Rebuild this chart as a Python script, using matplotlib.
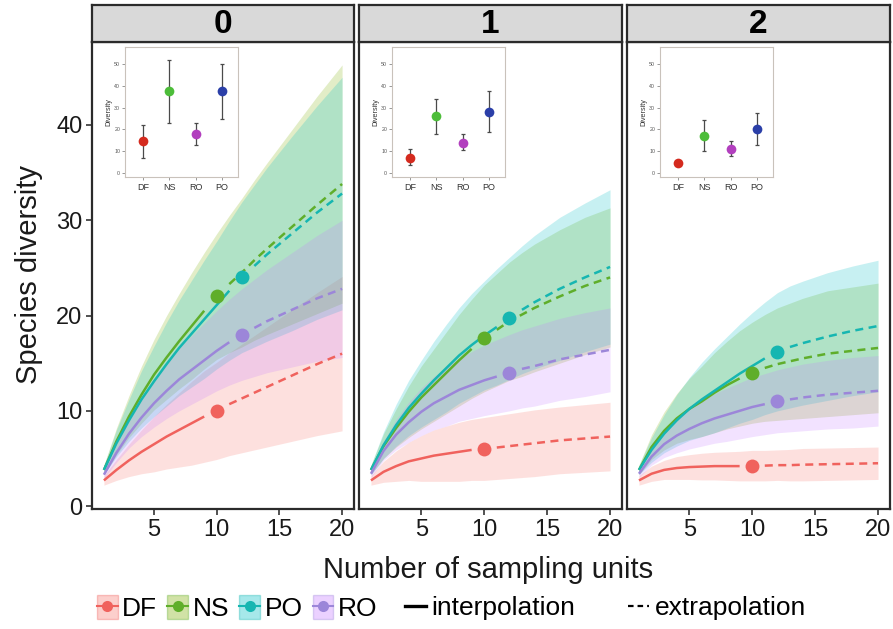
import numpy as np
import matplotlib
matplotlib.use("Agg")
import matplotlib.pyplot as plt
from matplotlib.patches import Patch
from matplotlib.lines import Line2D

plt.rcParams['font.family'] = ['Liberation Sans', 'DejaVu Sans']

# ---------------- data ----------------
facets = ["0", "1", "2"]
groups = ["DF", "NS", "PO", "RO"]
ref_size = {"DF": 10, "NS": 10, "PO": 12, "RO": 12}
x_units = [1, 2, 3, 4, 5, 6, 7, 8, 9, 10, 11, 12, 13, 14, 16, 18, 20]

# q = 0
q0_DF_mean = [2.7, 3.8, 4.8, 5.7, 6.5, 7.3, 8.0, 8.7, 9.4, 10.0, 10.7, 11.3, 11.9, 12.5, 13.7, 14.9, 16.0]
q0_DF_ci = [0.5, 1.1, 1.7, 2.3, 2.9, 3.4, 3.9, 4.4, 4.8, 5.1, 5.4, 5.7, 6.0, 6.3, 6.9, 7.5, 8.1]
q0_NS_mean = [3.8, 6.8, 9.4, 11.7, 13.8, 15.6, 17.3, 18.9, 20.5, 22.0, 23.3, 24.5, 25.8, 27.0, 29.3, 31.6, 33.8]
q0_NS_ci = [0.5, 1.4, 2.2, 3.0, 3.7, 4.4, 5.0, 5.6, 6.1, 6.6, 7.2, 7.8, 8.4, 9.0, 10.2, 11.4, 12.5]
q0_PO_mean = [3.8, 6.6, 9.0, 11.2, 13.1, 14.9, 16.6, 18.1, 19.6, 21.1, 22.6, 24.0, 25.2, 26.4, 28.6, 30.8, 32.8]
q0_PO_ci = [0.5, 1.4, 2.2, 3.0, 3.7, 4.4, 5.0, 5.6, 6.2, 6.7, 7.3, 7.9, 8.5, 9.1, 10.2, 11.2, 12.2]
q0_RO_mean = [3.3, 5.6, 7.6, 9.3, 10.8, 12.1, 13.3, 14.3, 15.3, 16.3, 17.2, 18.0, 18.7, 19.4, 20.6, 21.8, 22.8]
q0_RO_ci = [0.4, 1.0, 1.5, 2.0, 2.5, 2.9, 3.3, 3.6, 3.9, 4.2, 4.5, 4.8, 5.1, 5.4, 6.0, 6.6, 7.2]

# q = 1
q1_DF_mean = [2.7, 3.6, 4.2, 4.7, 5.0, 5.3, 5.5, 5.7, 5.9, 6.0, 6.15, 6.3, 6.45, 6.6, 6.9, 7.1, 7.3]
q1_DF_ci = [0.5, 1.1, 1.6, 2.0, 2.4, 2.7, 2.9, 3.1, 3.2, 3.3, 3.35, 3.4, 3.45, 3.5, 3.5, 3.55, 3.6]
q1_NS_mean = [3.8, 6.3, 8.2, 9.9, 11.4, 12.7, 14.0, 15.3, 16.5, 17.6, 18.5, 19.4, 20.1, 20.8, 22.0, 23.1, 24.0]
q1_NS_ci = [0.5, 1.3, 2.0, 2.7, 3.3, 3.8, 4.3, 4.8, 5.2, 5.6, 5.9, 6.2, 6.5, 6.7, 7.0, 7.2, 7.3]
q1_PO_mean = [3.8, 6.4, 8.5, 10.3, 11.8, 13.2, 14.5, 15.8, 16.9, 17.9, 18.8, 19.7, 20.6, 21.4, 22.8, 24.0, 25.1]
q1_PO_ci = [0.5, 1.4, 2.2, 2.9, 3.5, 4.1, 4.6, 5.0, 5.4, 5.7, 6.1, 6.4, 6.7, 7.0, 7.5, 7.8, 8.1]
q1_RO_mean = [3.4, 5.8, 7.5, 8.8, 9.9, 10.8, 11.5, 12.2, 12.7, 13.2, 13.6, 14.0, 14.4, 14.7, 15.4, 15.9, 16.4]
q1_RO_ci = [0.4, 1.0, 1.6, 2.1, 2.5, 2.8, 3.1, 3.3, 3.5, 3.7, 3.85, 4.0, 4.1, 4.2, 4.3, 4.4, 4.4]

# q = 2
q2_DF_mean = [2.7, 3.4, 3.8, 4.0, 4.1, 4.15, 4.2, 4.2, 4.2, 4.25, 4.25, 4.3, 4.3, 4.35, 4.4, 4.45, 4.5]
q2_DF_ci = [0.5, 0.8, 1.0, 1.2, 1.3, 1.4, 1.45, 1.5, 1.55, 1.6, 1.6, 1.6, 1.65, 1.7, 1.7, 1.7, 1.7]
q2_NS_mean = [3.8, 6.2, 7.9, 9.2, 10.2, 11.0, 11.9, 12.7, 13.4, 14.0, 14.5, 14.9, 15.2, 15.5, 16.0, 16.3, 16.6]
q2_NS_ci = [0.5, 1.3, 2.0, 2.6, 3.2, 3.7, 4.2, 4.6, 5.0, 5.3, 5.6, 5.9, 6.1, 6.3, 6.6, 6.7, 6.8]
q2_PO_mean = [3.8, 5.9, 7.6, 9.0, 10.2, 11.2, 12.1, 13.0, 13.9, 14.7, 15.5, 16.2, 16.7, 17.1, 17.8, 18.4, 18.9]
q2_PO_ci = [0.5, 1.3, 2.0, 2.7, 3.3, 3.9, 4.4, 4.8, 5.2, 5.6, 5.9, 6.2, 6.4, 6.5, 6.7, 6.8, 6.9]
q2_RO_mean = [3.4, 5.2, 6.5, 7.4, 8.1, 8.7, 9.2, 9.6, 10.0, 10.4, 10.7, 11.0, 11.2, 11.4, 11.7, 11.9, 12.1]
q2_RO_ci = [0.4, 0.9, 1.4, 1.8, 2.1, 2.4, 2.6, 2.8, 2.95, 3.1, 3.2, 3.3, 3.4, 3.5, 3.6, 3.7, 3.7]

curves = {
    "0": {"DF": (q0_DF_mean, q0_DF_ci), "NS": (q0_NS_mean, q0_NS_ci),
          "PO": (q0_PO_mean, q0_PO_ci), "RO": (q0_RO_mean, q0_RO_ci)},
    "1": {"DF": (q1_DF_mean, q1_DF_ci), "NS": (q1_NS_mean, q1_NS_ci),
          "PO": (q1_PO_mean, q1_PO_ci), "RO": (q1_RO_mean, q1_RO_ci)},
    "2": {"DF": (q2_DF_mean, q2_DF_ci), "NS": (q2_NS_mean, q2_NS_ci),
          "PO": (q2_PO_mean, q2_PO_ci), "RO": (q2_RO_mean, q2_RO_ci)},
}

# inset data (estimate, lower, upper)
inset_cats = ["DF", "NS", "RO", "PO"]
inset_est = {"0": [14.5, 37.5, 18.0, 37.5], "1": [7.0, 26.0, 14.0, 28.0], "2": [4.5, 17.0, 11.0, 20.0]}
inset_lo = {"0": [7.0, 23.0, 13.0, 25.0], "1": [3.5, 18.0, 10.5, 19.0], "2": [3.5, 10.0, 8.0, 13.0]}
inset_hi = {"0": [22.0, 52.0, 23.0, 50.0], "1": [11.0, 34.0, 18.0, 37.5], "2": [5.5, 24.5, 14.5, 27.5]}

# ---------------- style ----------------
line_col = {"DF": "#F0625D", "NS": "#5FAE2A", "PO": "#16B6B1", "RO": "#9C86D9"}
fill_col = {"DF": "#F8766D", "NS": "#7CAE00", "PO": "#00BFC4", "RO": "#C77CFF"}
inset_col = {"DF": "#D42A1E", "NS": "#4DBD3A", "RO": "#B23FBE", "PO": "#2B3FA8"}

W, H = 893, 629
fig = plt.figure(figsize=(W / 100, H / 100), dpi=100)


def rect(l, t, r, b):
    return [l / W, 1 - b / H, (r - l) / W, (b - t) / H]


panel_x = [(92, 354), (359, 622), (627, 890)]
p_top, p_bot = 42, 509
s_top = 5
inset_off = (33, 47, 146, 177)
border = "#2b2b2b"

x = np.array(x_units, dtype=float)
for i, f in enumerate(facets):
    l, r = panel_x[i]
    ax = fig.add_axes(rect(l, p_top, r, p_bot))
    for g in groups:
        m, c = curves[f][g]
        m = np.array(m); c = np.array(c)
        ax.fill_between(x, m - c, m + c, color=fill_col[g], alpha=0.22, lw=0, zorder=1)
    for g in groups:
        m, c = curves[f][g]
        m = np.array(m)
        ref = ref_size[g]
        si = x <= ref - 1
        ei = x >= ref + 1
        ax.plot(x[si], m[si], color=line_col[g], lw=1.8, zorder=3, solid_capstyle='butt')
        ax.plot(x[ei], m[ei], color=line_col[g], lw=1.8, ls=(0, (3.2, 2.2)), zorder=3)
        ax.plot([ref], [m[list(x_units).index(ref)]], 'o', color=line_col[g], ms=10, zorder=4,
                markeredgewidth=0)
    ax.set_xlim(0.05, 20.95)
    ax.set_ylim(-0.3, 48.7)
    ax.set_xticks([5, 10, 15, 20])
    ax.tick_params(axis='x', labelsize=17, length=4, width=1.2, color='#333333', pad=3,
                   labelcolor='#1a1a1a')
    if i == 0:
        ax.set_yticks([0, 10, 20, 30, 40])
        ax.tick_params(axis='y', labelsize=17, length=4, width=1.2, color='#333333', pad=3,
                       labelcolor='#1a1a1a')
    else:
        ax.set_yticks([])
    for sp in ax.spines.values():
        sp.set_linewidth(1.6)
        sp.set_color(border)

    # strip
    sax = fig.add_axes(rect(l, s_top, r, p_top))
    sax.set_facecolor("#d9d9d9")
    sax.set_xticks([]); sax.set_yticks([])
    for sp in sax.spines.values():
        sp.set_linewidth(1.6)
        sp.set_color(border)
    sax.text(0.5, 0.48, f, transform=sax.transAxes, ha='center', va='center',
             fontsize=24, fontweight='bold', color='black')

    # inset
    iax = fig.add_axes(rect(l + inset_off[0], inset_off[1], l + inset_off[2], inset_off[3]))
    iax.set_facecolor('white')
    pos = np.arange(1, len(inset_cats) + 1)
    for k, cat in enumerate(inset_cats):
        iax.errorbar([pos[k]], [inset_est[f][k]],
                     yerr=[[inset_est[f][k] - inset_lo[f][k]], [inset_hi[f][k] - inset_est[f][k]]],
                     fmt='none', ecolor='#4a4a4a', elinewidth=0.9, capsize=1.5, capthick=0.9, zorder=2)
        iax.plot([pos[k]], [inset_est[f][k]], 'o', color=inset_col[cat], ms=7, zorder=3,
                 markeredgewidth=0)
    iax.set_xlim(0.32, 4.6)
    iax.set_ylim(-1.8, 57.8)
    iax.set_xticks(pos)
    iax.set_xticklabels(inset_cats)
    iax.set_yticks([0, 10, 20, 30, 40, 50])
    iax.tick_params(axis='x', labelsize=6.5, length=2, width=0.6, color='#888888', pad=2,
                    labelcolor='#333333')
    iax.tick_params(axis='y', labelsize=3.8, length=2, width=0.6, color='#888888', pad=1.5,
                    labelcolor='#555555')
    iax.set_ylabel("Diversity", fontsize=5.2, labelpad=1.5, color='#333333')
    for sp in iax.spines.values():
        sp.set_linewidth(0.8)
        sp.set_color('#c9c2bb')

# axis titles
fig.text(488 / W, 1 - 570 / H, "Number of sampling units", ha='center', va='center',
         fontsize=21, color='#1a1a1a')
fig.text(29 / W, 1 - 275 / H, "Species diversity", ha='center', va='center',
         rotation=90, fontsize=21, color='#1a1a1a')

# legends
gh = []
for g in groups:
    gh.append((Patch(facecolor=fill_col[g], edgecolor=line_col[g], alpha=0.35, lw=1.0),
               Line2D([], [], color=line_col[g], marker='o', ms=8, lw=1.5, markeredgewidth=0)))
leg1 = fig.legend(gh, groups, loc='center left', bbox_to_anchor=(97 / W, 1 - 608 / H),
                  ncol=4, frameon=False, fontsize=19, handlelength=0.78, handleheight=1.0,
                  handletextpad=0.18, columnspacing=0.38, borderpad=0, borderaxespad=0)
lh = [Line2D([], [], color='black', lw=2.4),
      Line2D([], [], color='black', lw=1.6, ls=(0, (2.5, 1.8)))]
leg2 = fig.legend(lh, ["interpolation", "extrapolation"], loc='center left',
                  bbox_to_anchor=(405 / W, 1 - 608 / H), ncol=2, frameon=False, fontsize=19,
                  handlelength=0.8, handletextpad=0.2, columnspacing=2.0,
                  borderpad=0, borderaxespad=0)

fig.savefig("out.png", dpi=100)
